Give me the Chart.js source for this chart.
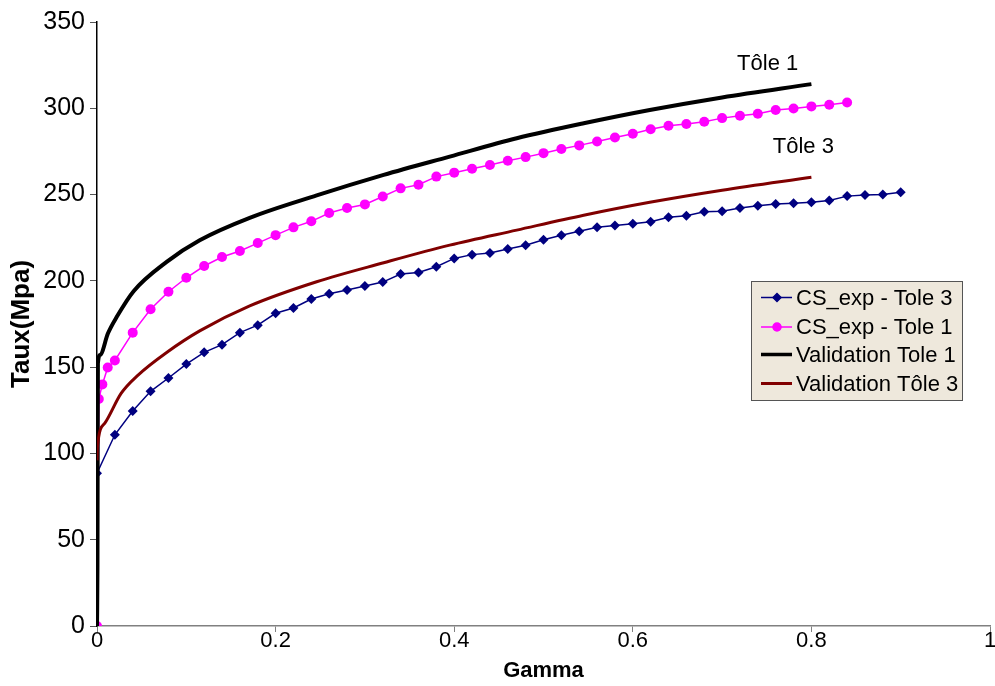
<!DOCTYPE html>
<html>
<head>
<meta charset="utf-8">
<script src="https://cdn.jsdelivr.net/npm/chart.js@4.4.1/dist/chart.umd.min.js"></script>
<style>
  html, body { margin: 0; padding: 0; background: #fff; }
</style>
</head>
<body>
<canvas id="chartCurve" width="995" height="686"></canvas>
<script>
  "use strict";

  // CS_exp - Tole 3
  var gammaExp3 = [0, 0.02, 0.04, 0.06, 0.08, 0.1, 0.12, 0.14, 0.16, 0.18, 0.2, 0.22, 0.24, 0.26, 0.28, 0.3,
    0.32, 0.34, 0.36, 0.38, 0.4, 0.42, 0.44, 0.46, 0.48, 0.5, 0.52, 0.54, 0.56, 0.58, 0.6, 0.62, 0.64,
    0.66, 0.68, 0.7, 0.72, 0.74, 0.76, 0.78, 0.8, 0.82, 0.84, 0.86, 0.88, 0.9];
  var tauExp3 = [88.5, 110.8, 124.6, 136, 143.7, 151.8, 158.6, 163, 170, 174.3, 181.2, 184.3, 189.5, 192.5,
    194.7, 197, 199.3, 204, 204.8, 208.2, 213, 215.2, 216.1, 218.4, 220.6, 223.8, 226.4, 228.7, 231,
    232.1, 233.1, 234.2, 236.8, 237.7, 240, 240.3, 242.2, 243.5, 244.5, 245, 245.5, 246.6, 249.1,
    249.7, 250.1, 251.3];

  // CS_exp - Tole 1
  var gammaExp1 = [0, 0.002, 0.006, 0.012, 0.02, 0.04, 0.06, 0.08, 0.1, 0.12, 0.14, 0.16, 0.18, 0.2, 0.22,
    0.24, 0.26, 0.28, 0.3, 0.32, 0.34, 0.36, 0.38, 0.4, 0.42, 0.44, 0.46, 0.48, 0.5, 0.52, 0.54, 0.56,
    0.58, 0.6, 0.62, 0.64, 0.66, 0.68, 0.7, 0.72, 0.74, 0.76, 0.78, 0.8, 0.82, 0.84];
  var tauExp1 = [0, 131.5, 140, 149.8, 153.9, 170, 183.5, 193.7, 201.8, 208.6, 213.8, 217.3, 221.9, 226.5,
    231, 234.5, 239.3, 242.2, 244.3, 248.9, 253.6, 255.7, 260.4, 262.7, 265, 267.1, 269.6, 271.7, 274,
    276.4, 278.5, 280.8, 283.1, 285.2, 287.8, 289.9, 290.9, 292.2, 294.3, 295.7, 296.8, 299, 299.9,
    301.1, 302, 303.4];

  // Validation Tole 1
  var gammaVal1 = [0, 0.0005, 0.001, 0.0034, 0.0123, 0.022, 0.041, 0.078, 0.115, 0.171, 0.246, 0.321,
    0.395, 0.47, 0.545, 0.619, 0.7, 0.8];
  var tauVal1 = [0, 34, 152, 157, 169.6, 179, 194, 211, 223.5, 236.5, 249.5, 261.4, 272, 282.6, 291.3,
    299, 306.3, 314];

  // Validation Tôle 3
  var gammaVal3 = [0, 0.0005, 0.0086, 0.027, 0.046, 0.078, 0.115, 0.171, 0.246, 0.321, 0.395, 0.47,
    0.545, 0.619, 0.7, 0.8];
  var tauVal3 = [96, 104, 117.4, 134.8, 145.4, 158.5, 171, 185.5, 199.5, 210.5, 220.7, 229.4, 238,
    245.5, 252.5, 260];

  var yTicks = [0, 50, 100, 150, 200, 250, 300, 350];
  var xTicks = [0, 0.2, 0.4, 0.6, 0.8, 1];

  // curve labels, placed in data space
  var curveLabels = ["Tôle 1", "Tôle 3"];
  var curveLabelGamma = [0.751, 0.791];
  var curveLabelTau = [325.7, 277.6];

  function toPoints(xs, ys) {
    var out = [];
    for (var i = 0; i < xs.length; i++) out.push({ x: xs[i], y: ys[i] });
    return out;
  }

  var FONT = "'Liberation Sans', Arial, sans-serif";

  var curveLabelPlugin = {
    id: "curveLabels",
    afterDatasetsDraw: function (chart) {
      var ctx = chart.ctx;
      var xs = chart.scales.x, ys = chart.scales.y;
      ctx.save();
      ctx.fillStyle = "#000";
      ctx.font = "22px " + FONT;
      ctx.textAlign = "center";
      ctx.textBaseline = "middle";
      for (var i = 0; i < curveLabels.length; i++) {
        ctx.fillText(curveLabels[i], xs.getPixelForValue(curveLabelGamma[i]), ys.getPixelForValue(curveLabelTau[i]));
      }
      ctx.restore();
    },
  };

  // boxed legend sitting inside the plot, like the original
  var boxLegendPlugin = {
    id: "boxLegend",
    afterDraw: function (chart) {
      var ctx = chart.ctx;
      var area = chart.chartArea;
      var left = area.right - 239, top = area.top + 259, w = 211, h = 119;
      ctx.save();
      ctx.fillStyle = "#eee8dc";
      ctx.fillRect(left, top, w, h);
      ctx.strokeStyle = "#555";
      ctx.lineWidth = 1;
      ctx.strokeRect(left + 0.5, top + 0.5, w, h);
      ctx.font = "22px " + FONT;
      ctx.textBaseline = "middle";
      ctx.textAlign = "left";
      var rows = [16.5, 46, 73.5, 102.5];
      chart.data.datasets.forEach(function (ds, i) {
        var y = top + rows[i];
        ctx.strokeStyle = ds.borderColor;
        ctx.lineWidth = Math.min(ds.borderWidth, 3.5);
        ctx.beginPath();
        ctx.moveTo(left + 10, y);
        ctx.lineTo(left + 41, y);
        ctx.stroke();
        if (ds.pointRadius > 0) {
          ctx.fillStyle = ds.backgroundColor;
          ctx.strokeStyle = ds.borderColor;
          Chart.helpers.drawPoint(ctx, {
            pointStyle: ds.pointStyle,
            radius: ds.pointRadius - 1,
            rotation: 0,
            borderWidth: 1,
          }, left + 26, y);
        }
        ctx.fillStyle = "#000";
        ctx.fillText(ds.label, left + 45, y + 1);
      });
      ctx.restore();
    },
  };

  var ctx = document.getElementById("chartCurve").getContext("2d");
  ctx.canvas.style.width = "995px";
  ctx.canvas.style.height = "686px";

  var chart = new Chart(ctx, {
    type: "line",
    data: {
      datasets: [
        {
          label: "CS_exp - Tole 3",
          data: toPoints(gammaExp3, tauExp3),
          borderColor: "#000080",
          backgroundColor: "#000080",
          borderWidth: 1.5,
          pointStyle: "rectRot",
          pointRadius: 5,
          pointBorderWidth: 0,
          tension: 0,
          order: 3,
        },
        {
          label: "CS_exp - Tole 1",
          data: toPoints(gammaExp1, tauExp1),
          borderColor: "#ff00ff",
          backgroundColor: "#ff00ff",
          borderWidth: 1.5,
          pointStyle: "circle",
          pointRadius: 5,
          pointBorderWidth: 0,
          tension: 0,
          order: 2,
        },
        {
          label: "Validation Tole 1",
          data: toPoints(gammaVal1, tauVal1),
          borderColor: "#000000",
          backgroundColor: "#000000",
          borderWidth: 4,
          pointRadius: 0,
          cubicInterpolationMode: "monotone",
          order: 1,
        },
        {
          label: "Validation Tôle 3",
          data: toPoints(gammaVal3, tauVal3),
          borderColor: "#800000",
          backgroundColor: "#800000",
          borderWidth: 3,
          pointRadius: 0,
          cubicInterpolationMode: "monotone",
          order: 0,
        },
      ],
    },
    options: {
      responsive: false,
      animation: false,
      devicePixelRatio: 1,
      layout: { padding: { top: 22, right: 4, left: 0, bottom: 0 } },
      plugins: {
        legend: { display: false },
        tooltip: { enabled: false },
      },
      scales: {
        x: {
          type: "linear",
          min: 0,
          max: 1,
          afterFit: function (scale) { scale.height = 60; },
          afterBuildTicks: function (scale) {
            scale.ticks = xTicks.map(function (v) { return { value: v }; });
          },
          ticks: {
            color: "#000",
            font: { family: FONT, size: 22 },
            padding: -4,
            maxRotation: 0,
            callback: function (v) { return String(v); },
          },
          grid: { drawOnChartArea: false, tickLength: 6, color: "#808080" },
          border: { color: "#808080", width: 1.5 },
          title: {
            display: true,
            text: "Gamma",
            color: "#000",
            font: { family: FONT, size: 22, weight: "bold" },
            padding: { top: 0, bottom: 2 },
          },
        },
        y: {
          min: 0,
          max: 350,
          afterFit: function (scale) { scale.width = 97; },
          afterBuildTicks: function (scale) {
            scale.ticks = yTicks.map(function (v) { return { value: v }; });
          },
          ticks: {
            color: "#000",
            font: { family: FONT, size: 25 },
            padding: 5,
          },
          grid: { drawOnChartArea: false, tickLength: 7, color: "#555" },
          border: { color: "#000", width: 1.5 },
          title: {
            display: true,
            text: "Taux(Mpa)",
            color: "#000",
            font: { family: FONT, size: 26, weight: "bold" },
            padding: { top: 6, bottom: 0 },
          },
        },
      },
    },
    plugins: [curveLabelPlugin, boxLegendPlugin],
  });
</script>
</body>
</html>
